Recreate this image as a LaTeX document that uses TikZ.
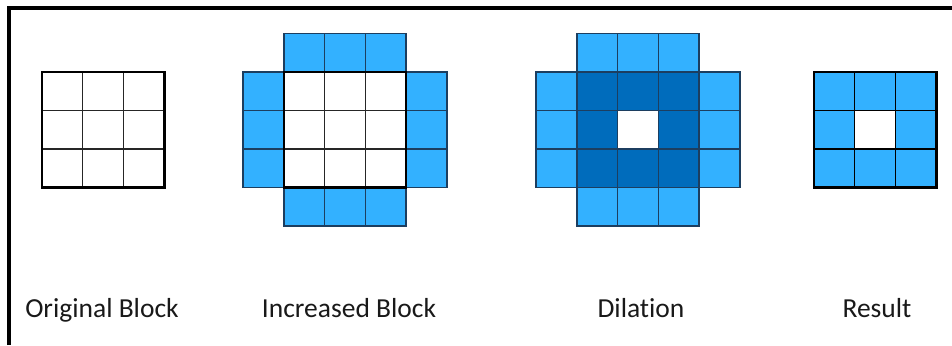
\documentclass[tikz,border=0pt]{standalone}
\usepackage{fontspec}
\setmainfont{Carlito}[Ligatures=NoCommon]
\usetikzlibrary{positioning}
\definecolor{lightblue}{RGB}{51,177,255}
\definecolor{darkblue}{RGB}{0,108,188}
\definecolor{cellline}{RGB}{28,62,96}
\tikzstyle{cell}=[draw=cellline,line width=1.5pt]
\tikzstyle{grid}=[draw=black!85,line width=1.3pt]
\tikzstyle{outline}=[draw=black,line width=2.4pt]
\tikzstyle{every node}=[font=\fontsize{27.5}{33}\selectfont,text=black!90]
\def\cw{40.8}
\def\ch{38.5}

\begin{document}
\begin{tikzpicture}[x=1pt,y=-1pt]
    \useasboundingbox (0,0) rectangle (952,345);
    % frame of the figure
    \draw[line width=4pt] (8.5,345) -- (8.5,8.5) -- (952,8.5);

    % original block
    \foreach \i in {0,1,2}
        \foreach \j in {0,1,2}
            \draw[grid] ({42+\i*\cw},{72+\j*\ch}) rectangle +(\cw,\ch);
    \draw[outline] (42,72) rectangle +({3*\cw},{3*\ch});

    % increased block
    \foreach \i in {1,2,3} {
        \draw[cell,fill=lightblue] ({243+\i*\cw},33.5) rectangle +(\cw,\ch);
        \draw[cell,fill=lightblue] ({243+\i*\cw},{33.5+4*\ch}) rectangle +(\cw,\ch);
    }
    \foreach \j in {1,2,3} {
        \draw[cell,fill=lightblue] (243,{33.5+\j*\ch}) rectangle +(\cw,\ch);
        \draw[cell,fill=lightblue] ({243+4*\cw},{33.5+\j*\ch}) rectangle +(\cw,\ch);
    }
    \foreach \i in {1,2,3}
        \foreach \j in {1,2,3}
            \draw[grid,fill=white] ({243+\i*\cw},{33.5+\j*\ch}) rectangle +(\cw,\ch);
    \draw[outline] ({243+\cw},{33.5+\ch}) rectangle +({3*\cw},{3*\ch});

    % dilation
    \foreach \i in {1,2,3} {
        \draw[cell,fill=lightblue] ({536+\i*\cw},33.5) rectangle +(\cw,\ch);
        \draw[cell,fill=lightblue] ({536+\i*\cw},{33.5+4*\ch}) rectangle +(\cw,\ch);
    }
    \foreach \j in {1,2,3} {
        \draw[cell,fill=lightblue] (536,{33.5+\j*\ch}) rectangle +(\cw,\ch);
        \draw[cell,fill=lightblue] ({536+4*\cw},{33.5+\j*\ch}) rectangle +(\cw,\ch);
    }
    \foreach \i in {1,2,3}
        \foreach \j in {1,2,3}
            \draw[cell,fill=darkblue] ({536+\i*\cw},{33.5+\j*\ch}) rectangle +(\cw,\ch);
    \draw[cell,fill=white] ({536+2*\cw},{33.5+2*\ch}) rectangle +(\cw,\ch);

    % result
    \foreach \i in {0,1,2}
        \foreach \j in {0,1,2}
            \draw[grid,draw=black,fill=lightblue] ({814+\i*\cw},{72+\j*\ch}) rectangle +(\cw,\ch);
    \draw[grid,draw=black,fill=white] ({814+\cw},{72+\ch}) rectangle +(\cw,\ch);
    \draw[outline] (814,72) rectangle +({3*\cw},{3*\ch});

    % labels
    \node[anchor=base] (original) at (102,317) {Original Block};
    \node[anchor=base] (increased) at (349,317) {Increased Block};
    \node[anchor=base] (dilation) at (641,317) {Dilation};
    \node[anchor=base] (result) at (877,317) {Result};
\end{tikzpicture}
\end{document}
